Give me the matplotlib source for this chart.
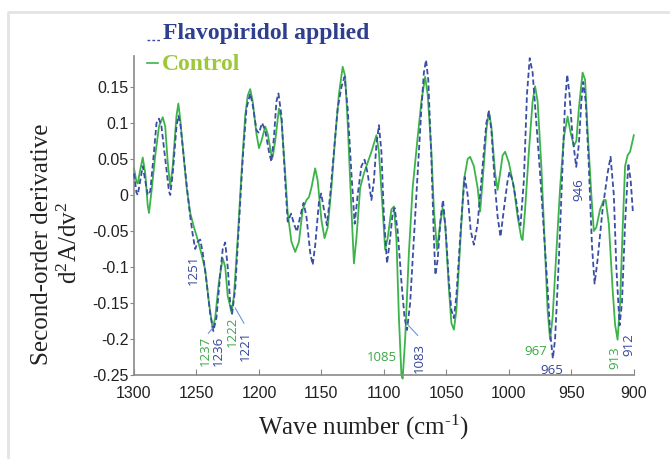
import matplotlib
matplotlib.use("Agg")
import matplotlib.pyplot as plt
from matplotlib.lines import Line2D

# second-derivative spectra (wave number cm-1, value)
control_wn = [1300, 1298, 1297, 1295, 1293, 1291, 1289, 1288, 1286, 1283, 1280, 1277, 1275, 1273,
              1271, 1269, 1266, 1264.5, 1263, 1260, 1258, 1255, 1252, 1249, 1246, 1243, 1240, 1237,
              1235, 1232, 1229, 1227, 1225, 1222, 1220, 1217, 1214, 1211, 1209, 1207, 1205, 1202,
              1200, 1198, 1195, 1193, 1190, 1189, 1187, 1184, 1182, 1179, 1177, 1174, 1171, 1168,
              1165, 1162, 1160, 1158, 1155, 1153, 1150, 1147.5, 1145, 1142, 1139, 1136, 1133, 1131,
              1129, 1126, 1124, 1122, 1119, 1116, 1113, 1110, 1106, 1104, 1101, 1099, 1097, 1094,
              1092, 1090, 1088, 1086, 1085, 1083, 1080, 1077, 1073, 1070, 1067, 1065, 1062, 1060,
              1057.5, 1055, 1053, 1051, 1048, 1046, 1044, 1042, 1039, 1036, 1033, 1031, 1028, 1025,
              1023, 1021, 1018, 1016, 1014, 1011, 1009, 1007, 1005, 1003, 1000, 996, 993, 990, 989,
              987, 984, 981, 979, 977, 974, 971, 969, 967, 965, 962, 959, 956, 953, 951, 948, 946,
              944, 941, 939, 937, 934, 932, 930, 927, 924, 922.5, 920, 917, 915, 913, 911, 909, 907,
              905, 903, 901, 900]
control_val = [0.037, 0.018, 0.016, 0.035, 0.052, 0.030, -0.015, -0.025, 0.005, 0.055, 0.095, 0.108,
               0.095, 0.045, 0.012, 0.040, 0.110, 0.127, 0.105, 0.050, 0.012, -0.025, -0.045, -0.062,
               -0.082, -0.104, -0.150, -0.186, -0.170, -0.120, -0.088, -0.100, -0.140, -0.163, -0.140,
               -0.060, 0.030, 0.110, 0.138, 0.147, 0.130, 0.085, 0.065, 0.075, 0.095, 0.085, 0.055,
               0.053, 0.075, 0.120, 0.105, 0.030, -0.025, -0.065, -0.079, -0.065, -0.020, -0.007,
               -0.003, 0.010, 0.037, 0.020, -0.035, -0.060, -0.045, 0.010, 0.080, 0.140, 0.178, 0.165,
               0.100, -0.020, -0.095, -0.060, 0.010, 0.030, 0.045, 0.060, 0.083, 0.060, -0.020, -0.076,
               -0.060, -0.020, -0.016, -0.060, -0.170, -0.250, -0.255, -0.200, -0.080, 0.010, 0.080,
               0.130, 0.164, 0.140, 0.060, -0.020, -0.076, -0.040, -0.018, -0.040, -0.130, -0.178,
               -0.187, -0.160, -0.070, 0.020, 0.050, 0.053, 0.040, 0.010, -0.023, 0.020, 0.090, 0.116,
               0.095, 0.030, 0.007, 0.030, 0.055, 0.060, 0.045, 0.010, -0.030, -0.060, -0.0625, -0.020,
               0.060, 0.130, 0.151, 0.130, 0.040, -0.080, -0.160, -0.201, -0.170, -0.080, 0.010, 0.080,
               0.109, 0.090, 0.068, 0.075, 0.120, 0.170, 0.160, 0.090, 0.000, -0.050, -0.045, -0.020,
               -0.007, -0.007, -0.040, -0.130, -0.180, -0.201, -0.150, -0.050, 0.040, 0.055, 0.060,
               0.075, 0.083]

flavo_wn = [1300, 1298, 1297, 1295, 1293, 1291, 1289, 1287, 1284, 1282, 1280, 1278, 1275, 1272, 1271,
            1269, 1266, 1264.5, 1263, 1260, 1257, 1255, 1253, 1251, 1249, 1247, 1245, 1242, 1239,
            1236.5, 1234, 1231, 1229, 1227, 1225, 1223, 1221.5, 1219, 1216, 1213, 1210, 1207, 1205,
            1202, 1200, 1197.5, 1195, 1192, 1190, 1188, 1186, 1184.4, 1182, 1179, 1177, 1174.3, 1172,
            1169.6, 1167, 1164.3, 1162, 1159, 1157, 1155, 1152, 1150.2, 1148, 1145.6, 1143, 1140,
            1137, 1134, 1131.5, 1129, 1126, 1123.4, 1121, 1118, 1115.5, 1113, 1110, 1108, 1106, 1104,
            1102, 1100, 1097.5, 1095, 1093, 1091.4, 1089, 1086, 1083.5, 1081.5, 1079, 1076, 1073,
            1070, 1068, 1066.3, 1064.5, 1062, 1060, 1058.8, 1057, 1054.5, 1052.7, 1050.5, 1048, 1046,
            1044, 1042, 1039, 1037, 1035.3, 1033, 1030.5, 1028, 1025, 1021, 1018, 1016, 1014, 1011,
            1009, 1006.7, 1004, 1001, 999.5, 997, 994, 992, 990.7, 988, 985.5, 983.3, 981, 978, 975,
            972, 969, 967, 964.8, 963, 960, 957, 955, 953.3, 951.5, 949, 946.1, 944, 942, 940.5,
            938.5, 936, 933.5, 931.4, 929, 925, 921, 918.6, 916, 914, 911.4, 909.5, 907, 904.4,
            902.5, 900.7]
flavo_val = [0.030, 0.003, 0.000, 0.020, 0.040, 0.020, 0.000, 0.005, 0.060, 0.100, 0.106, 0.095,
             0.050, 0.005, 0.000, 0.030, 0.095, 0.110, 0.100, 0.050, 0.000, -0.030, -0.055, -0.075,
             -0.065, -0.062, -0.080, -0.120, -0.165, -0.189, -0.170, -0.110, -0.075, -0.066, -0.100,
             -0.150, -0.165, -0.130, -0.040, 0.050, 0.120, 0.141, 0.125, 0.090, 0.086, 0.100, 0.090,
             0.060, 0.046, 0.080, 0.130, 0.141, 0.110, 0.020, -0.037, -0.026, -0.040, -0.051, -0.030,
             -0.011, -0.030, -0.080, -0.097, -0.070, -0.010, 0.002, -0.020, -0.042, 0.000, 0.060,
             0.120, 0.150, 0.164, 0.120, 0.030, -0.040, 0.000, 0.040, 0.049, 0.030, -0.007, 0.020,
             0.070, 0.097, 0.060, -0.030, -0.095, -0.060, -0.025, -0.018, -0.050, -0.120, -0.170,
             -0.1875, -0.150, -0.060, 0.030, 0.120, 0.170, 0.1875, 0.160, 0.050, -0.060, -0.111,
             -0.090, -0.030, -0.007, -0.050, -0.120, -0.160, -0.171, -0.140, -0.060, -0.010, 0.025,
             0.000, -0.050, -0.069, -0.040, 0.040, 0.100, 0.116, 0.090, 0.010, -0.030, -0.058,
             -0.020, 0.020, 0.032, 0.020, -0.010, -0.035, -0.042, 0.020, 0.140, 0.190, 0.170, 0.100,
             0.030, -0.050, -0.130, -0.190, -0.227, -0.200, -0.090, 0.040, 0.130, 0.167, 0.140, 0.080,
             0.039, 0.070, 0.130, 0.157, 0.130, 0.040, -0.070, -0.123, -0.090, -0.020, 0.030, 0.053,
             0.000, -0.100, -0.181, -0.150, -0.040, 0.044, 0.020, -0.025]

# peak labels: (text, wn, value, rotation, series)
peak_labels = [
    ("1251", 1252.7, -0.104, 90, "flavo"),
    ("1237", 1243.0, -0.217, 90, "control"),
    ("1236", 1232.5, -0.217, 90, "flavo"),
    ("1222", 1221.7, -0.190, 90, "control"),
    ("1221", 1211.0, -0.210, 90, "flavo"),
    ("1085", 1101.5, -0.226, 0, "control"),
    ("1083", 1071.9, -0.226, 90, "flavo"),
    ("967", 978.7, -0.217, 0, "control"),
    ("965", 965.9, -0.244, 0, "flavo"),
    ("946", 943.7, 0.007, 90, "flavo"),
    ("913", 914.9, -0.226, 90, "control"),
    ("912", 903.8, -0.208, 90, "flavo"),
]
# short leader lines from a minimum to its label
leaders = [
    ((1240.5, 1237.0), (-0.192, -0.185)),
    ((1219.0, 1212.0), (-0.157, -0.178)),
    ((1082.0, 1073.0), (-0.178, -0.195)),
]

GREEN = "#3cb44a"
BLUE = "#3a4ea6"
TXT = {"control": "#3aa845", "flavo": "#34459a"}

plt.rcParams["mathtext.fontset"] = "custom"
plt.rcParams["mathtext.rm"] = "Liberation Serif"
plt.rcParams["mathtext.it"] = "Liberation Serif:italic"

fig = plt.figure(figsize=(6.7, 4.59), dpi=100)
ax = fig.add_axes([0.2, 0.183, 0.746, 0.695])

ax.plot(control_wn, control_val, color=GREEN, lw=1.3, clip_on=False, zorder=2)
ax.plot(flavo_wn, flavo_val, color=BLUE, lw=1.3, ls=(0, (3.0, 1.6)), clip_on=False, zorder=3)

for x, y in leaders:
    ax.plot(x, y, color="#6d95d6", lw=0.8, zorder=4)

for txt, x, y, rot, s in peak_labels:
    ax.text(x, y, txt, rotation=rot, ha="center", va="center", color=TXT[s],
            family=["Open Sans", "DejaVu Sans"], fontsize=9.5, zorder=5)

ax.set_xlim(1300, 900)
ax.set_ylim(-0.25, 0.193)
ax.set_xticks(range(1300, 899, -50))
yt = [-0.25, -0.2, -0.15, -0.1, -0.05, 0, 0.05, 0.1, 0.15]
ax.set_yticks(yt)
ax.set_yticklabels([("%g" % v) for v in yt])
for lab in ax.get_xticklabels() + ax.get_yticklabels():
    lab.set_family(["Liberation Sans Narrow", "Liberation Sans"])
    lab.set_fontsize(11.5)
    lab.set_color("#222222")

for side in ("top", "right"):
    ax.spines[side].set_visible(False)
for side in ("left", "bottom"):
    ax.spines[side].set_color("#8a8a8a")
    ax.spines[side].set_linewidth(1.2)
ax.tick_params(axis="x", direction="in", length=4, color="#8a8a8a", pad=8)
ax.tick_params(axis="y", direction="out", length=3, color="#8a8a8a", pad=1)

W, H = 670, 459
serif = ["Liberation Serif", "DejaVu Serif"]
fig.text(363 / W, 1 - 427 / H, r"Wave number (cm$^{\text{-}1}$)", ha="center", va="center",
         family=serif, fontsize=18, color="#222222")
fig.text(42.5 / W, 1 - 244 / H, "Second-order derivative", rotation=90, ha="center",
         va="center", family=serif, fontsize=18, color="#222222")
fig.text(70 / W, 1 - 243 / H, r"d$^2$A/dv$^2$", rotation=90, ha="center", va="center",
         family=serif, fontsize=18, color="#222222")

# legend drawn by hand, placed like the original
fig.add_artist(Line2D([146.7 / W, 160 / W], [1 - 40 / H] * 2, color=BLUE, lw=1.0,
                      ls=(0, (2, 1.5))))
fig.add_artist(Line2D([146.7 / W, 158 / W], [1 - 63 / H] * 2, color=GREEN, lw=1.2))
fig.text(163 / W, 1 - 33 / H, "Flavopiridol applied", ha="left", va="center", family=serif,
         fontsize=17, fontweight="bold", color="#2f3f8f")
fig.text(161.7 / W, 1 - 64 / H, "Control", ha="left", va="center", family=serif,
         fontsize=17, fontweight="bold", color="#9cc83a")

# light frame of the source panel
fig.add_artist(Line2D([8 / W, 8 / W, 1.0], [0.0, 1 - 12 / H, 1 - 12 / H], color="#e4e4e4",
                      lw=2.0))

fig.savefig("out.png", dpi=100)
